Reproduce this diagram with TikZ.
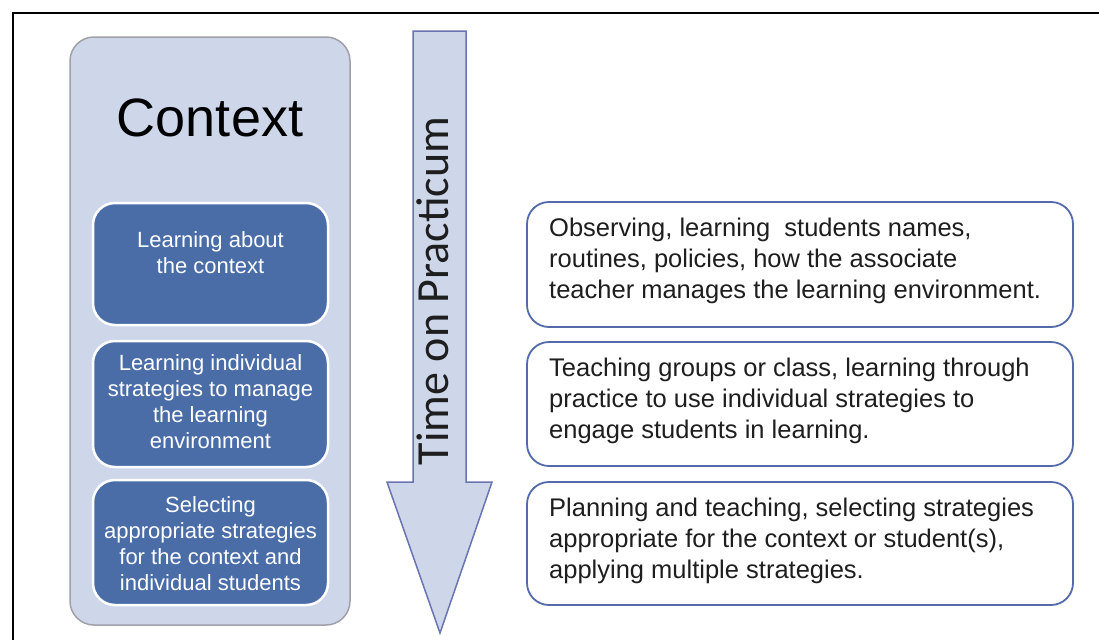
\documentclass[tikz,border=0pt]{standalone}
\usepackage{fontspec}
\setmainfont{Liberation Sans}
\newfontfamily\calibri{Carlito}
\definecolor{lightfill}{RGB}{206,214,234}
\definecolor{outerborder}{RGB}{160,160,168}
\definecolor{darkfill}{RGB}{74,109,168}
\definecolor{arrowborder}{RGB}{106,116,176}
\definecolor{rightborder}{RGB}{84,106,170}
\definecolor{darktext}{RGB}{30,30,30}
\tikzset{
  ctxbox/.style={draw=outerborder, line width=1.5pt, fill=lightfill, rounded corners=24pt, inner sep=0pt},
  innerbox/.style={draw=white, line width=2.5pt, fill=darkfill, rounded corners=22pt, inner sep=0pt, minimum width=235pt},
  innertext/.style={text=white, align=center, inner sep=0pt, font=\fontsize{22}{26}\selectfont},
  rightbox/.style={draw=rightborder, line width=1.8pt, fill=white, rounded corners=22pt, inner sep=0pt, minimum width=546pt},
  righttext/.style={text=darktext, align=left, anchor=west, inner sep=0pt, font=\fontsize{25.5}{31}\selectfont},
}
\begin{document}
\begin{tikzpicture}[x=1pt,y=-1pt]
\useasboundingbox[fill=white] (0,0) rectangle (1099,640);
% frame
\draw[line width=2.8pt, black] (13,640) -- (13,13) -- (1099,13);
% context column
\node[ctxbox, minimum width=280pt, minimum height=588pt] (ctx) at (210,331) {};
\node[text=black, inner sep=0pt, font=\fontsize{54}{60}\selectfont] (ctxtitle) at (210,118) {Context};
\node[innerbox, minimum height=122pt] (b1) at (210.5,264) {};
\node[innerbox, minimum height=126pt] (b2) at (210.5,404) {};
\node[innerbox, minimum height=125pt] (b3) at (210.5,542.5) {};
\node[innertext] (t1) at (210.5,253) {Learning about\\the context};
\node[innertext] (t2) at (210.5,402) {Learning individual\\strategies to manage\\the learning\\environment};
\node[innertext] (t3) at (210.5,544) {Selecting\\appropriate strategies\\for the context and\\individual students};
% arrow
\draw[draw=arrowborder, line width=1.5pt, fill=lightfill, line join=miter]
  (413,31) -- (466,31) -- (466,482) -- (492,482) -- (440,633) -- (387,482) -- (413,482) -- cycle;
\node[rotate=90, anchor=base, inner sep=0pt, text=darktext, font=\calibri\fontsize{46}{52}\selectfont] (time) at (448,291) {Time on Practicum};
% right boxes
\node[rightbox, minimum height=125pt] (r1) at (800,264.5) {};
\node[rightbox, minimum height=124pt] (r2) at (800,404) {};
\node[rightbox, minimum height=123pt] (r3) at (800,543.5) {};
\node[righttext] (rt1) at (549,261) {Observing, learning\ \ students names,\\routines, policies, how the associate\\teacher manages the learning environment.};
\node[righttext] (rt2) at (549,401) {Teaching groups or class, learning through\\practice to use individual strategies to\\engage students in learning.};
\node[righttext] (rt3) at (549,541) {Planning and teaching, selecting strategies\\appropriate for the context or student(s),\\applying multiple strategies.};
\end{tikzpicture}
\end{document}
